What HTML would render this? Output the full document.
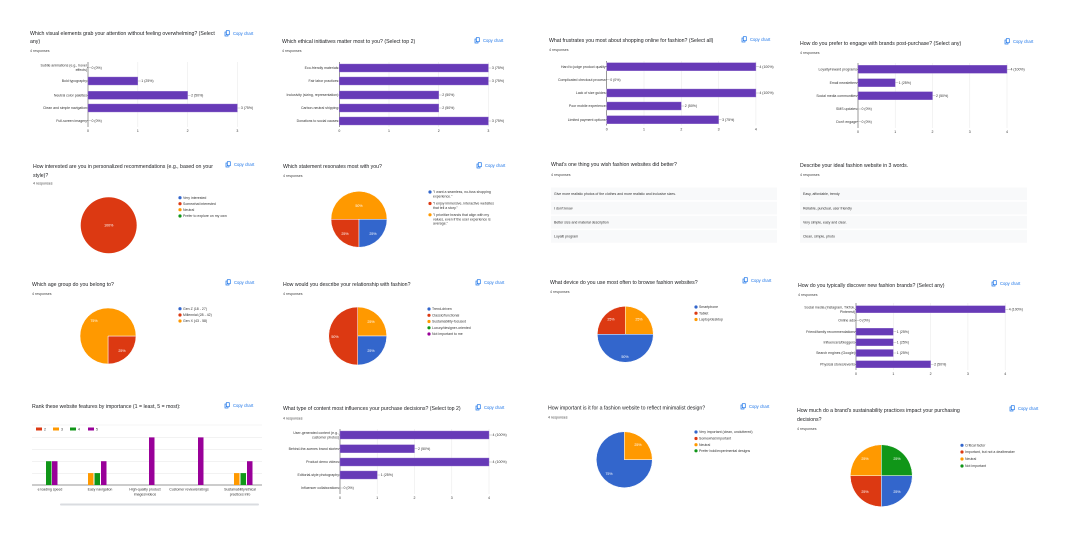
<!DOCTYPE html>
<html><head><meta charset="utf-8"><style>
html,body{margin:0;padding:0;background:#fff;width:1080px;height:560px;overflow:hidden}
svg{display:block;font-family:"Liberation Sans",Arial,sans-serif}
.t{font-size:5.2px;fill:#202124}
.r{font-size:3.6px;fill:#444}
.l{font-size:3.5px;fill:#333}
.c{font-size:4.2px;fill:#1a73e8}
.p{font-size:3.6px;fill:#fff}
</style></head><body>
<svg id="s" width="1080" height="560" viewBox="0 0 1080 560" xmlns="http://www.w3.org/2000/svg"></svg>
<script>
const S=document.getElementById('s');let h='';
const P='#673ab7',B='#3366cc',R='#dc3912',O='#ff9900',G='#109618',M='#990099';
function T(x,y,s,c,a){h+=`<text x="${x}" y="${y}" class="${c}"${a?` text-anchor="${a}"`:''}>${s}</text>`}
function copy(x,y){h+=`<rect x="${x}" y="${y-4}" width="3" height="4" fill="none" stroke="#1a73e8" stroke-width="0.7"/><rect x="${x+1.3}" y="${y-5.3}" width="3" height="4" fill="#fff" stroke="#1a73e8" stroke-width="0.7"/>`;T(x+8,y-1,'Copy chart','c')}
function bars(x0,u,ys,vals,labs,max,bh,top,bot){
 for(let i=0;i<=max;i++){const x=x0+i*u;h+=`<line x1="${x}" y1="${top}" x2="${x}" y2="${bot}" stroke="${i?'#ebebeb':'#333'}" stroke-width="${i?0.6:0.5}"/>`;T(x,bot+5,i,'l','middle')}
 ys.forEach((y,i)=>{const v=vals[i],w=v*u;
  if(w>0)h+=`<rect x="${x0}" y="${y-bh/2}" width="${w}" height="${bh}" fill="${P}" stroke="#9575cd" stroke-width="0.4"/>`;
  h+=`<line x1="${x0+w}" y1="${y}" x2="${x0+w+3}" y2="${y}" stroke="#999" stroke-width="0.4"/>`;
  T(x0+w+3.5,y+1.2,v+' ('+(v*25)+'%)','l');
  const L=labs[i];if(Array.isArray(L)){T(x0-1,y-1,L[0],'l','end');T(x0-1,y+3.5,L[1],'l','end')}else T(x0-1,y+1.2,L,'l','end');
  h+=`<line x1="${x0-1}" y1="${y}" x2="${x0}" y2="${y}" stroke="#333" stroke-width="0.4"/>`;
 })}
function leg(x,ys,cols,labs){ys.forEach((y,i)=>{h+=`<circle cx="${x}" cy="${y}" r="1.6" fill="${cols[i]}"/>`;const L=labs[i];if(Array.isArray(L))L.forEach((s,k)=>T(x+3,y+1.2+k*4.3,s,'l'));else T(x+3,y+1.2,L,'l')})}
function sl(d,c){h+=`<path d="${d}" fill="${c}" stroke="#fff" stroke-width="0.5"/>`}
// Card 1
T(30,35,'Which visual elements grab your attention without feeling overwhelming? (Select','t');T(30,43,'any)','t');T(30,52,'4 responses','r');copy(225,36);
bars(88,49.8,[67.7,81,95.3,108,120.7],[0,1,2,3,0],[['Subtle animations (e.g., hover','effects)'],'Bold typography','Neutral color palettes','Clean and simple navigation','Full-screen imagery'],3,8,62,127);
// Card 2
T(282,43,'Which ethical initiatives matter most to you? (Select top 2)','t');T(282,52,'4 responses','r');copy(475,43);
bars(339.3,49.7,[68,81,95,108,121],[3,3,2,2,3],['Eco-friendly materials','Fair labor practices','Inclusivity (sizing, representation)','Carbon-neutral shipping','Donations to social causes'],3,8,62,127);
// Card 3
T(549,42,'What frustrates you most about shopping online for fashion? (Select all)','t');T(549,51,'4 responses','r');copy(742,42);
bars(606.7,37.3,[66.7,79.7,93,106,119.7],[4,0,4,2,3],['Hard to judge product quality','Complicated checkout process','Lack of size guides','Poor mobile experience','Limited payment options'],4,8,61,125.5);
// Card 4
T(800,45,'How do you prefer to engage with brands post-purchase? (Select any)','t');T(800,54,'4 responses','r');copy(1005,44);
bars(858,37.25,[69.3,82.7,95.7,109,121.7],[4,1,2,0,0],['Loyalty/reward programs','Email newsletters','Social media communities','SMS updates',"Don't engage"],4,8,63,128);
// Card 5
T(33,168,'How interested are you in personalized recommendations (e.g., based on your','t');T(33,177,'style)?','t');T(33,184.5,'4 responses','r');copy(226,167);
h+=`<circle cx="108.7" cy="225.3" r="28" fill="${R}"/>`;T(108.7,226.5,'100%','p','middle');
leg(180,[197.7,203.7,209.7,216],[B,R,O,G],['Very interested','Somewhat interested','Neutral','Prefer to explore on my own']);
// Card 6
T(283,168,'Which statement resonates most with you?','t');T(283,177,'4 responses','r');copy(477,168);
sl('M359,219.3 L331,219.3 A28,28 0 0 1 387,219.3 Z',O);sl('M359,219.3 L359,247.3 A28,28 0 0 1 331,219.3 Z',R);sl('M359,219.3 L387,219.3 A28,28 0 0 1 359,247.3 Z',B);
T(359,207,'50%','p','middle');T(345,235,'25%','p','middle');T(373,235,'25%','p','middle');
leg(430,[192,203.5,214.8],[B,R,O],[['"I want a seamless, no-fuss shopping','experience."'],['"I enjoy immersive, interactive websites','that tell a story."'],['"I prioritize brands that align with my','values, even if the user experience is','average."']]);
// Card 7
T(551,166,"What's one thing you wish fashion websites did better?",'t');T(551,176,'4 responses','r');
['Give more realistic photos of the clothes and more realistic and inclusive sizes.',"I don't know",'Better size and material description','Loyalti program'].forEach((s,i)=>{const y=187.5+i*14.2;h+=`<rect x="551" y="${y}" width="226" height="12.7" fill="#f8f9fa"/>`;T(554,y+7.6,s,'l')});
// Card 8
T(800,167,'Describe your ideal fashion website in 3 words.','t');T(800,176,'4 responses','r');
['Easy, affordable, trendy','Reliable, punctual, user friendly','Very simple, easy and clear.','Clean, simple, photo'].forEach((s,i)=>{const y=187.5+i*14.2;h+=`<rect x="800" y="${y}" width="227" height="12.7" fill="#f8f9fa"/>`;T(803,y+7.6,s,'l')});
// Card 9
T(32,286,'Which age group do you belong to?','t');T(32,295,'4 responses','r');copy(226,285);
sl('M108,336 L136,336 A28,28 0 0 1 108,364 Z',R);sl('M108,336 L108,364 A28,28 0 1 1 136,336 Z',O);
T(94,322,'75%','p','middle');T(122,352,'25%','p','middle');
leg(180,[308.7,315,321],[B,R,O],['Gen Z (18 - 27)','Millennial (28 - 42)','Gen X (43 - 58)']);
// Card 10
T(283,286,'How would you describe your relationship with fashion?','t');T(283,295,'4 responses','r');copy(476,285);
sl('M357.7,336 L357.7,307 A29,29 0 0 1 386.7,336 Z',O);sl('M357.7,336 L386.7,336 A29,29 0 0 1 357.7,365 Z',B);sl('M357.7,336 L357.7,365 A29,29 0 0 1 357.7,307 Z',R);
T(371,323,'25%','p','middle');T(371,352,'25%','p','middle');T(335,338,'50%','p','middle');
leg(429,[309,315.3,321.5,327.8,334],[B,R,O,G,M],['Trend-driven','Classic/functional','Sustainability-focused','Luxury/designer-oriented','Not important to me']);
// Card 11
T(550,284,'What device do you use most often to browse fashion websites?','t');T(550,293,'4 responses','r');copy(743,283);
sl('M625.3,334.3 L597.3,334.3 A28,28 0 0 1 625.3,306.3 Z',R);sl('M625.3,334.3 L625.3,306.3 A28,28 0 0 1 653.3,334.3 Z',O);sl('M625.3,334.3 L653.3,334.3 A28,28 0 0 1 597.3,334.3 Z',B);
T(611,320.5,'25%','p','middle');T(639,320.5,'25%','p','middle');T(625,358,'50%','p','middle');
leg(696,[307,313.2,319.5],[B,R,O],['Smartphone','Tablet','Laptop/desktop']);
// Card 12
T(798,287,'How do you typically discover new fashion brands? (Select any)','t');T(798,296,'4 responses','r');copy(992,286);
bars(856,37.3,[309.3,320.3,331.7,342.3,353,364.3],[4,0,1,1,1,2],[['Social media (Instagram, TikTok,','Pinterest)'],'Online ads','Friend/family recommendations','Influencers/bloggers','Search engines (Google)','Physical stores/events'],4,7,303,370);
// Card 13
T(32,408,'Rank these website features by importance (1 = least, 5 = most):','t');copy(225,408);
[[36,R,'2'],[53,O,'3'],[70,G,'4'],[88,M,'5']].forEach(a=>{h+=`<rect x="${a[0]}" y="427.5" width="6" height="3" fill="${a[1]}"/>`;T(a[0]+8,430.3,a[2],'l')});
[425,437.3,449.3,461.7,473.7].forEach(y=>h+=`<line x1="32" y1="${y}" x2="262" y2="${y}" stroke="#ebebeb" stroke-width="0.6"/>`);
h+=`<line x1="32" y1="485" x2="262" y2="485" stroke="#333" stroke-width="0.5"/>`;
const u=11.9;[[46,G,2],[52,M,2],[88,O,1],[94.5,G,1],[101,M,2],[149,M,4],[198,M,4],[234,O,1],[240.5,G,1],[247,M,2]].forEach(b=>h+=`<rect x="${b[0]}" y="${485-b[2]*u}" width="5.5" height="${b[2]*u}" fill="${b[1]}"/>`);
T(50,490.5,'e loading speed','l','middle');T(100,490.5,'Easy navigation','l','middle');T(145,490.5,'High-quality product','l','middle');T(145,495.5,'images/videos','l','middle');T(189,490.5,'Customer reviews/ratings','l','middle');T(240,490.5,'Sustainability/ethical','l','middle');T(240,495.5,'practices info','l','middle');
h+=`<rect x="60" y="503.5" width="199" height="2" rx="1" fill="#dadce0"/>`;
// Card 14
T(283,410,'What type of content most influences your purchase decisions? (Select top 2)','t');T(283,419.5,'4 responses','r');copy(476,410);
bars(340,37.25,[435,448.7,462,475,488],[4,2,4,1,0],[['User-generated content (e.g.,','customer photos)'],'Behind-the-scenes brand stories','Product demo videos','Editorial-style photography','Influencer collaborations'],4,8,429,494);
// Card 15
T(548,409.5,'How important is it for a fashion website to reflect minimalist design?','t');T(548,418.5,'4 responses','r');copy(741,409);
sl('M624.3,459.7 L624.3,431.7 A28,28 0 0 1 652.3,459.7 Z',O);sl('M624.3,459.7 L652.3,459.7 A28,28 0 1 1 624.3,431.7 Z',B);
T(638,446,'25%','p','middle');T(609,475,'75%','p','middle');
leg(696,[432,438.5,444.7,450.8],[B,R,O,G],['Very important (clean, uncluttered)','Somewhat important','Neutral','Prefer bold/experimental designs']);
// Card 16
T(797,412,"How much do a brand's sustainability practices impact your purchasing",'t');T(797,421,'decisions?','t');T(797,430,'4 responses','r');copy(1010,411);
sl('M881.3,475.7 L881.3,444.7 A31,31 0 0 1 912.3,475.7 Z',G);sl('M881.3,475.7 L912.3,475.7 A31,31 0 0 1 881.3,506.7 Z',B);sl('M881.3,475.7 L881.3,506.7 A31,31 0 0 1 850.3,475.7 Z',R);sl('M881.3,475.7 L850.3,475.7 A31,31 0 0 1 881.3,444.7 Z',O);
T(897,460,'25%','p','middle');T(897,493,'25%','p','middle');T(865,493,'25%','p','middle');T(865,460,'25%','p','middle');
leg(962,[445.3,452,459,466],[B,R,O,G],['Critical factor','Important, but not a dealbreaker','Neutral','Not important']);
S.innerHTML=h;
</script>
</body></html>
